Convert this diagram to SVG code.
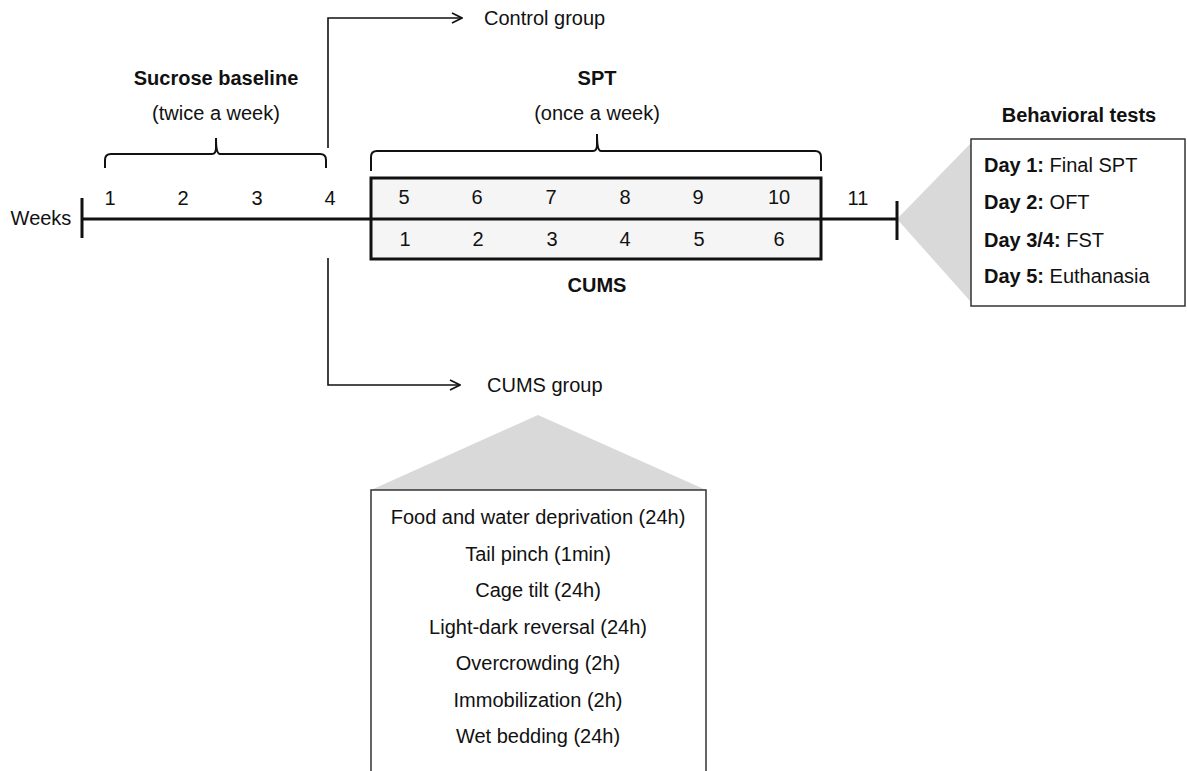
<svg xmlns="http://www.w3.org/2000/svg" width="1187" height="771" viewBox="0 0 1187 771">
<style>
text{font-family:"Liberation Sans",Arial,sans-serif;font-size:20px;fill:#111}
.b{font-weight:bold}
.c{text-anchor:middle}
.tl{stroke:#111;stroke-width:3;fill:none}
.br{stroke:#111;stroke-width:2;fill:none}
.ar{stroke:#111;stroke-width:1.6;fill:none}
</style>
<defs>
<marker id="ah" viewBox="0 0 12 12" refX="11" refY="6" markerWidth="12" markerHeight="12" markerUnits="userSpaceOnUse" orient="auto">
<path d="M1,1 L11,6 L1,11" fill="none" stroke="#111" stroke-width="1.6"/>
</marker>
</defs>
<rect width="1187" height="771" fill="#fff"/>
<g id="connectors">
<path class="ar" d="M328,148 V18 H462" marker-end="url(#ah)"/>
<path class="ar" d="M328,258 V385 H460" marker-end="url(#ah)"/>
<polygon points="897,219 971,143 971,302" fill="#d9d9d9"/>
<polygon points="538,415 371,490 706,490" fill="#d9d9d9"/>
</g>
<g id="timeline">
<line class="tl" x1="82" y1="219" x2="897" y2="219"/>
<line class="tl" x1="82" y1="198" x2="82" y2="238" stroke-width="3.5"/>
<line class="tl" x1="897" y1="201" x2="897" y2="240" stroke-width="3.5"/>
<text x="41" y="225" class="c">Weeks</text>
<text x="110" y="205" class="c">1</text>
<text x="183" y="205" class="c">2</text>
<text x="257" y="205" class="c">3</text>
<text x="330" y="205" class="c">4</text>
<text x="858" y="205" class="c">11</text>
</g>
<g id="baseline">
<path class="br" d="M105,168 V160 Q105,154 111,154 H212 Q216,154 216,148 V138 Q216,154 220,154 H320 Q326,154 326,160 V168"/>
<text x="216" y="85" class="c b">Sucrose baseline</text>
<text x="216" y="120" class="c">(twice a week)</text>
</g>
<g id="spt">
<path class="br" d="M371,171 V157 Q371,151 377,151 H593 Q597,151 597,145 V134 Q597,151 601,151 H815 Q821,151 821,157 V171"/>
<text x="597" y="85" class="c b">SPT</text>
<text x="597" y="120" class="c">(once a week)</text>
</g>
<g id="cums-box">
<rect x="371" y="178" width="450" height="81" fill="#f5f5f5" stroke="#111" stroke-width="3"/>
<line class="tl" x1="371" y1="219" x2="821" y2="219"/>
<text x="404" y="204" class="c">5</text>
<text x="477" y="204" class="c">6</text>
<text x="551" y="204" class="c">7</text>
<text x="625" y="204" class="c">8</text>
<text x="698" y="204" class="c">9</text>
<text x="779" y="204" class="c">10</text>
<text x="405" y="246" class="c">1</text>
<text x="478" y="246" class="c">2</text>
<text x="552" y="246" class="c">3</text>
<text x="625" y="246" class="c">4</text>
<text x="699" y="246" class="c">5</text>
<text x="779" y="246" class="c">6</text>
<text x="597" y="292" class="c b">CUMS</text>
</g>
<g id="control-group">
<text x="484" y="25">Control group</text>
</g>
<g id="cums-group">
<text x="487" y="392">CUMS group</text>
</g>
<g id="behavioral-tests">
<text x="1079" y="122" class="c b">Behavioral tests</text>
<rect x="971" y="139" width="214" height="167" fill="#fff" stroke="#333" stroke-width="1.5"/>
<text x="984" y="172"><tspan class="b">Day 1:</tspan> Final SPT</text>
<text x="984" y="209"><tspan class="b">Day 2:</tspan> OFT</text>
<text x="984" y="247"><tspan class="b">Day 3/4:</tspan> FST</text>
<text x="984" y="283"><tspan class="b">Day 5:</tspan> Euthanasia</text>
</g>
<g id="stressors">
<path d="M371,771 V490 H706 V771" fill="#fff" stroke="#333" stroke-width="1.5"/>
<text x="538" y="524" class="c">Food and water deprivation (24h)</text>
<text x="538" y="561" class="c">Tail pinch (1min)</text>
<text x="538" y="597" class="c">Cage tilt (24h)</text>
<text x="538" y="634" class="c">Light-dark reversal (24h)</text>
<text x="538" y="670" class="c">Overcrowding (2h)</text>
<text x="538" y="707" class="c">Immobilization (2h)</text>
<text x="538" y="743" class="c">Wet bedding (24h)</text>
</g>
</svg>
